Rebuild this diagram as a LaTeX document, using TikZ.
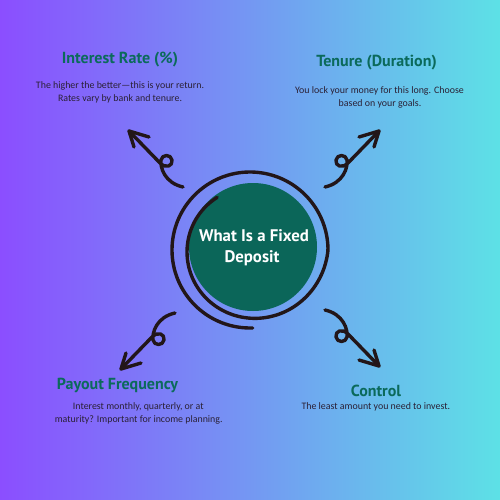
\documentclass[tikz,border=0pt]{standalone}
\usepackage{fontspec}
\setmainfont{Carlito}
\newfontfamily\headfont{PT Sans}
\definecolor{bgL}{HTML}{8B4EFF}
\definecolor{bgR}{HTML}{5DE1E6}
\definecolor{fdgreen}{HTML}{0B6659}
\definecolor{ink}{HTML}{221619}
\definecolor{bodyc}{HTML}{2A2035}
\definecolor{headc}{HTML}{0B6A5B}
\newcommand\swirlarrow[1]{%
  \coordinate (#1tip) at (129,131);
  \coordinate (#1bend) at (160,163);
  \coordinate (#1tail) at (183,187);
  \draw[inkline] (#1tip) -- (#1bend)
    .. controls (166,169) and (173,166) .. (172,160)
    .. controls (171,154) and (162,154) .. (161,160)
    .. controls (160,168) and (165,183) .. (#1tail);
  \draw[inkline] (149,137) -- (#1tip) -- (134,147);}
\begin{document}
\begin{tikzpicture}[x=1pt,y=-1pt,
  inkline/.style={draw=ink,line width=3.4pt,line cap=round,line join=round},
  headtxt/.style={font=\headfont\bfseries\fontsize{16}{18}\selectfont,text=headc,inner sep=0pt,anchor=base},
  bodytxt/.style={font=\fontsize{9.9}{12}\selectfont,text=bodyc,inner sep=0pt,anchor=base},
  centertxt/.style={font=\headfont\bfseries\fontsize{16.8}{19}\selectfont,text=white,inner sep=0pt,anchor=base},
  declare function={rr(\t)=(\t<360)*(62+16*((\t-122)/238)^2)+(\t>=360)*78;}]
\useasboundingbox (0,0) rectangle (500,500);
\shade[left color=bgL,right color=bgR] (0,0) rectangle (500,500);
% centre
\node[circle,fill=fdgreen,minimum size=128pt,inner sep=0pt] (fd) at (253,247) {};
\draw[inkline] plot[domain=122:632,samples=220,smooth] ({250+rr(\x)*cos(\x)},{250-rr(\x)*sin(\x)});
\node[centertxt] (fd1) at (254,241) {What Is a Fixed};
\node[centertxt] (fd2) at (252,262) {Deposit};
% arrows
\begin{scope}\swirlarrow{tl}\end{scope}
\begin{scope}[xshift=508pt,xscale=-1]\swirlarrow{tr}\end{scope}
\begin{scope}[xshift=-8pt,yshift=-500pt,yscale=-1]\swirlarrow{bl}\end{scope}
\begin{scope}[xshift=508pt,yshift=-497pt,xscale=-1,yscale=-1]\swirlarrow{br}\end{scope}
% texts
\node[headtxt] (h1) at (120,63.5) {Interest Rate (\%)};
\node[bodytxt] (b1a) at (120,89) {The higher the better—this is your return.};
\node[bodytxt] (b1b) at (120,102) {Rates vary by bank and tenure.};
\node[headtxt] (h2) at (376.5,66.5) {Tenure (Duration)};
\node[bodytxt] (b2a) at (379.5,93.5) {You lock your money for this long. Choose};
\node[bodytxt] (b2b) at (380,106.5) {based on your goals.};
\node[headtxt] (h3) at (117.5,389.5) {Payout Frequency};
\node[bodytxt] (b3a) at (138.3,409.5) {Interest monthly, quarterly, or at};
\node[bodytxt] (b3b) at (138.7,422.5) {maturity? Important for income planning.};
\node[headtxt] (h4) at (376,396) {Control};
\node[bodytxt] (b4a) at (375.8,409.5) {The least amount you need to invest.};
\end{tikzpicture}
\end{document}
